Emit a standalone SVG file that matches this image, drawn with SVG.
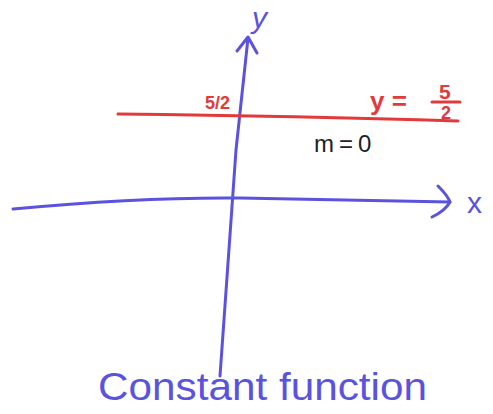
<svg xmlns="http://www.w3.org/2000/svg" width="493" height="414" viewBox="0 0 493 414">
<style>
.blue{stroke:#5b52e0;fill:none;stroke-width:3;stroke-linecap:round;stroke-linejoin:round}
.red{stroke:#e23a3a;fill:none;stroke-width:3;stroke-linecap:round}
.hand{font-family:"Liberation Sans","DejaVu Sans",sans-serif}
.bt{fill:#5b52e0}
.rt{fill:#e23a3a;font-weight:bold}
.kt{fill:#222222}
</style>
<rect width="493" height="414" fill="#ffffff"/>
<g id="connectors">
  <path id="y-axis" class="blue" d="M220,376 L236,150 L248,38"/>
  <path id="y-arrow" class="blue" d="M237,51 L248,37 L257,53"/>
  <path id="x-axis" class="blue" d="M13,209 Q140,197 240,198 L450,202"/>
  <path id="x-arrow" class="blue" d="M438,186 Q448,196 450,202 Q445,211 432,217"/>
  <path id="const-line" class="red" d="M118,114 Q300,116 458,121"/>
</g>
<g id="label-y"><text class="hand bt" x="252" y="28" font-size="30" font-style="italic">y</text></g>
<g id="label-x"><text class="hand bt" x="467" y="213" font-size="30">x</text></g>
<g id="label-intercept"><text class="hand rt" x="205" y="109" font-size="18">5/2</text></g>
<g id="label-equation">
  <text class="hand rt" x="370" y="110" font-size="26">y =</text>
  <text class="hand rt" x="439" y="99" font-size="21">5</text>
  <line class="red" x1="432" y1="102" x2="460" y2="102" stroke-width="2"/>
  <text class="hand rt" x="441" y="119" font-size="18">2</text>
</g>
<g id="label-slope"><text class="hand kt" x="314" y="152" font-size="24" letter-spacing="5">m=0</text></g>
<g id="title"><text class="hand bt" x="98" y="400" font-size="38" textLength="329" lengthAdjust="spacingAndGlyphs">Constant function</text></g>
</svg>
